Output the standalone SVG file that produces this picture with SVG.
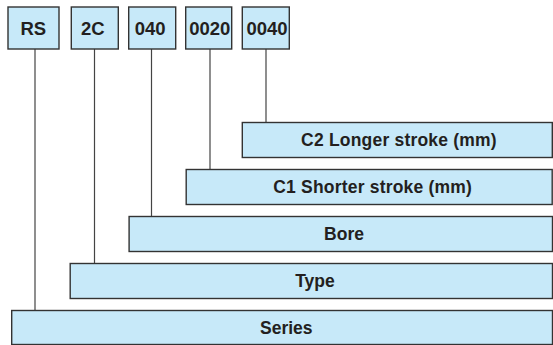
<svg xmlns="http://www.w3.org/2000/svg" width="553" height="345" viewBox="0 0 553 345">
<style>
.box{fill:#c7e9f9;stroke:#333;stroke-width:1.4}
.lbl{font-family:"Liberation Sans",Arial,sans-serif;font-weight:bold;font-size:17.5px;fill:#231f20;text-anchor:middle}
.code{font-size:18.5px}
.wide{letter-spacing:0.2px}
.con{stroke:#444;stroke-width:1.2;fill:none}
</style>
<rect width="553" height="345" fill="#fff"/>
<g id="connectors">
<line class="con" x1="35" y1="49" x2="35" y2="310.5"/>
<line class="con" x1="94.5" y1="49" x2="94.5" y2="263.5"/>
<line class="con" x1="151.5" y1="49" x2="151.5" y2="216.5"/>
<line class="con" x1="210" y1="49" x2="210" y2="169.5"/>
<line class="con" x1="266" y1="49" x2="266" y2="122.5"/>
</g>
<g id="code-RS"><rect class="box" x="8" y="7" width="51" height="42"/><text class="lbl code" x="33.3" y="34.5">RS</text></g>
<g id="code-2C"><rect class="box" x="71.3" y="7" width="47" height="42"/><text class="lbl code" x="92.8" y="34.5">2C</text></g>
<g id="code-040"><rect class="box" x="128.7" y="7" width="47" height="42"/><text class="lbl code" x="150.2" y="34.5">040</text></g>
<g id="code-0020"><rect class="box" x="185.7" y="7" width="46" height="42"/><text class="lbl code" x="209.8" y="34.5">0020</text></g>
<g id="code-0040"><rect class="box" x="242.3" y="7" width="47" height="42"/><text class="lbl code" x="267" y="34.5">0040</text></g>
<g id="c2"><rect class="box" x="242.3" y="122.5" width="310" height="35"/><text class="lbl wide" x="399" y="146">C2 Longer stroke (mm)</text></g>
<g id="c1"><rect class="box" x="186.2" y="169.5" width="366" height="35"/><text class="lbl wide" x="372.7" y="193">C1 Shorter stroke (mm)</text></g>
<g id="bore"><rect class="box" x="129.1" y="216.5" width="423.4" height="35"/><text class="lbl" x="344" y="240">Bore</text></g>
<g id="type"><rect class="box" x="70.2" y="263.5" width="482.3" height="35"/><text class="lbl" x="315" y="287">Type</text></g>
<g id="series"><rect class="box" x="11.7" y="310.5" width="540.8" height="34"/><text class="lbl" x="286.3" y="334">Series</text></g>
</svg>
